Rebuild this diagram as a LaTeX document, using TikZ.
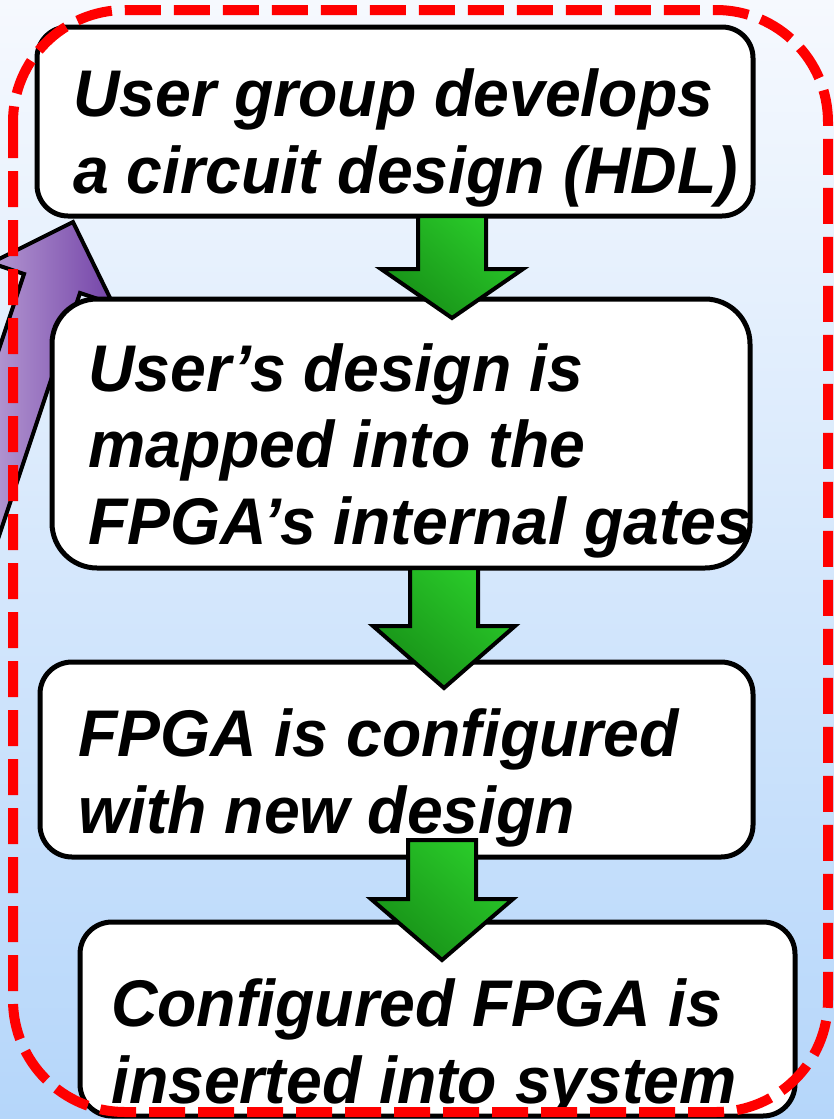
\documentclass[tikz,border=0pt]{standalone}
\usepackage{fontspec}
\setmainfont{Liberation Sans}
\usetikzlibrary{calc}

\definecolor{bgTop}{HTML}{F6F9FE}
\definecolor{bgBottom}{HTML}{B5D6FA}
\definecolor{arrowTop}{HTML}{2ACC2A}
\definecolor{arrowBottom}{HTML}{178F17}
\definecolor{loopLight}{HTML}{DCCDEC}
\definecolor{loopDark}{HTML}{7444A8}
\definecolor{frameRed}{HTML}{FF0000}

\tikzset{
  flowBox/.style={draw=black, line width=5pt, fill=white, outer sep=0pt, inner sep=0pt, anchor=north west},
  flowText/.style={anchor=base west, inner sep=0pt, align=left, font=\fontsize{66}{76.5}\selectfont\bfseries\itshape\addfontfeatures{FakeStretch=0.975}},
  flowArrow/.style={draw=black, line width=4pt, line join=miter, top color=arrowTop, bottom color=arrowBottom, shading angle=-40},
  loopArrow/.style={draw=black, line width=4pt, line join=miter, left color=loopLight, right color=loopDark},
  groupFrame/.style={draw=frameRed, line width=10pt, dash pattern=on 36pt off 13pt, rounded corners=112pt}
}

% block arrow pointing down: #1 top of the shaft, #2 tip, #3 head length
\newcommand{\stepArrow}[3]{%
  \draw[flowArrow] ($(#1)+(-34,0)$) -- ($(#2)+(-34,-#3)$) -- ($(#2)+(-71,-#3)$) -- (#2)
    -- ($(#2)+(71,-#3)$) -- ($(#2)+(34,-#3)$) -- ($(#1)+(34,0)$) -- cycle;}

\begin{document}
\begin{tikzpicture}[x=1pt,y=-1pt]
\useasboundingbox (0,0) rectangle (834,1119);
\clip (0,0) rectangle (834,1119);
\fill[top color=bgTop, bottom color=bgBottom] (0,0) rectangle (834,1119);

% loop back from the system to the user group
\coordinate (loopTip) at (73,222);
\draw[loopArrow] (loopTip) -- ++(40,82) -- ++(-33,-11) -- ++(-110,330) -- ++(-56,-19)
  -- ++(110,-330) -- ++(-33,-11) -- cycle;

% boxes of the design flow
\node[flowBox, minimum width=716, minimum height=189, rounded corners=31] (box1) at (37,27) {};
\node[flowBox, minimum width=698, minimum height=269, rounded corners=45] (box2) at (52,299) {};
\node[flowBox, minimum width=713, minimum height=195, rounded corners=32] (box3) at (40,662) {};
\node[flowBox, minimum width=715, minimum height=194, rounded corners=32] (box4) at (80,922) {};

% text sits on the baseline of its last line
\node[flowText] (text1) at (73,193) {User group develops\\a circuit design (HDL)};
\node[flowText] (text2) at (88,544) {User’s design is\\mapped into the\\FPGA’s internal gates};
\node[flowText] (text3) at (78,833) {FPGA is configured\\with new design};
\node[flowText] (text4) at (111,1103) {Configured FPGA is\\inserted into system};

% arrows between the steps
\coordinate (a1s) at ([xshift=57pt]box1.south);
\path (box2.north -| a1s) ++(0,19) coordinate (a1e);
\stepArrow{a1s}{a1e}{49}
\coordinate (a2s) at ([xshift=43pt]box2.south);
\path (box3.north -| a2s) ++(0,26) coordinate (a2e);
\stepArrow{a2s}{a2e}{62}
\coordinate (a3s) at ([xshift=45.5pt,yshift=17pt]box3.south);
\path (box4.north -| a3s) ++(0,38) coordinate (a3e);
\stepArrow{a3s}{a3e}{61}

% dashed frame round the whole flow
\draw[groupFrame] (13,10) rectangle (828,1112);
\end{tikzpicture}
\end{document}
